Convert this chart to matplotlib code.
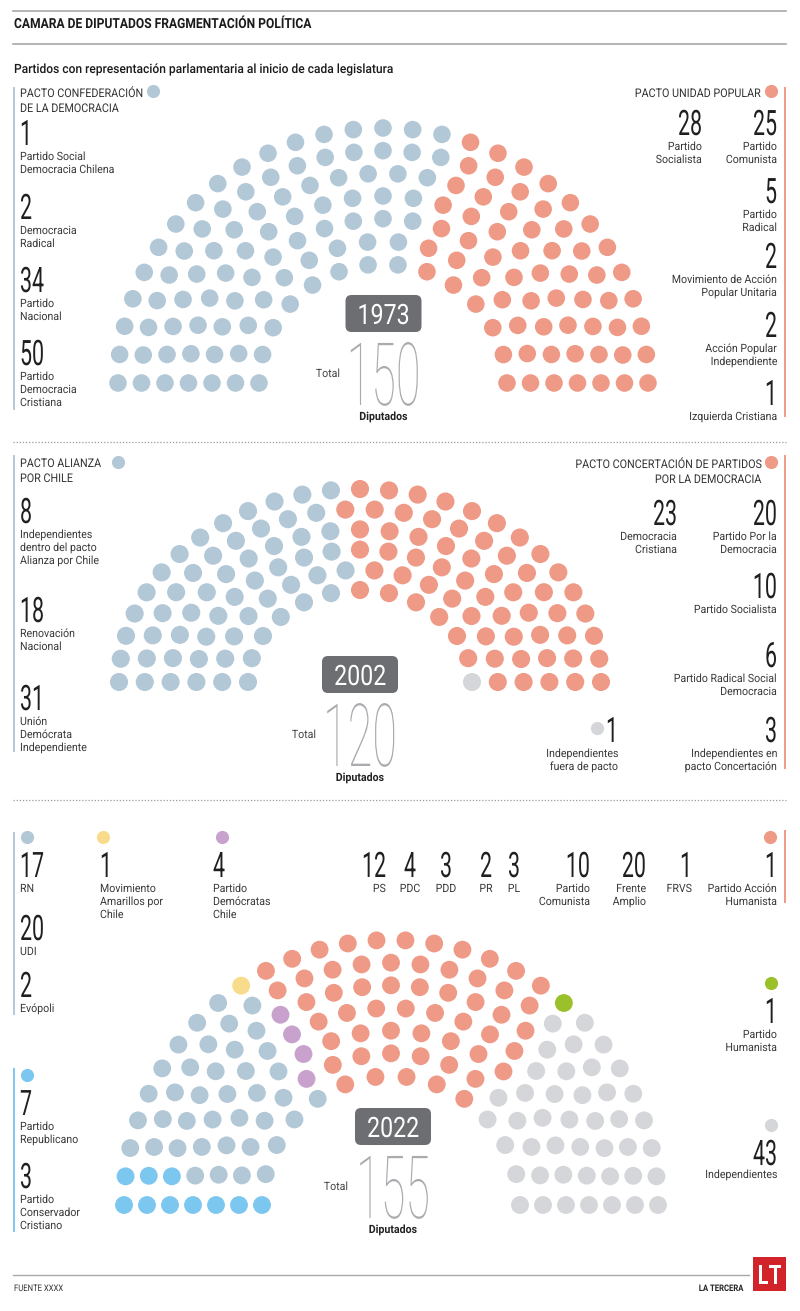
import numpy as np
import matplotlib
matplotlib.use("Agg")
import matplotlib.pyplot as plt
from matplotlib.patheffects import AbstractPathEffect
from matplotlib.transforms import Affine2D, Bbox
from matplotlib.patches import FancyBboxPatch, Rectangle

# ------------------------------------------------------------------ DATA
years = ["1973", "2002", "2022"]
totals = [150, 120, 155]

# 1973
code73_names = ["Partido Social\nDemocracia Chilena", "Democracia\nRadical",
                "Partido\nNacional", "Partido\nDemocracia\nCristiana"]
code73_seats = [1, 2, 34, 50]
up73_names = ["Partido\nSocialista", "Partido\nComunista", "Partido\nRadical",
              "Movimiento de Acción\nPopular Unitaria",
              "Acción Popular\nIndependiente", "Izquierda Cristiana"]
up73_seats = [28, 25, 5, 2, 2, 1]

# 2002
ali02_names = ["Independientes\ndentro del pacto\nAlianza por Chile",
               "Renovación\nNacional", "Unión\nDemócrata\nIndependiente"]
ali02_seats = [8, 18, 31]
con02_names = ["Democracia\nCristiana", "Partido Por la\nDemocracia",
               "Partido Socialista", "Partido Radical Social\nDemocracia",
               "Independientes en\npacto Concertación"]
con02_seats = [23, 20, 10, 6, 3]
ind02_names = ["Independientes\nfuera de pacto"]
ind02_seats = [1]

# 2022
rep22_names = ["Partido\nRepublicano", "Partido\nConservador\nCristiano"]
rep22_seats = [7, 3]
cv22_names = ["RN", "UDI", "Evópoli"]
cv22_seats = [17, 20, 2]
am22_names = ["Movimiento\nAmarillos por\nChile"]
am22_seats = [1]
dem22_names = ["Partido\nDemócratas\nChile"]
dem22_seats = [4]
izq22_names = ["PS", "PDC", "PDD", "PR", "PL", "Partido\nComunista",
               "Frente\nAmplio", "FRVS", "Partido Acción\nHumanista"]
izq22_seats = [12, 4, 3, 2, 3, 10, 20, 1, 1]
ph22_names = ["Partido\nHumanista"]
ph22_seats = [1]
ind22_names = ["Independientes"]
ind22_seats = [43]

# ------------------------------------------------------------------ STYLE
C_BG = "#b3c8d7"      # blue-grey
C_SAL = "#ee9a86"     # salmon
C_GRY = "#d5d6d9"     # grey
C_LB = "#7cc7ef"      # light blue
C_YEL = "#f9dc8b"
C_PUR = "#c9a1cd"
C_GRN = "#9bc12a"
C_TXT = "#3a3a3a"
C_NUM = "#1f1f1f"
C_BOX = "#6d6e71"
C_BIG = "#a9abae"
FONT = ["Roboto", "DejaVu Sans"]

W, H = 800, 1311
fig = plt.figure(figsize=(W / 100, H / 100), dpi=100)
ax = fig.add_axes([0, 0, 1, 1])
ax.set_xlim(0, W)
ax.set_ylim(H, 0)
ax.axis("off")
renderer = fig.canvas.get_renderer()


class Stretch(AbstractPathEffect):
    """Draw text glyphs scaled around the text anchor point (optionally shifted down)."""
    def __init__(self, sx, sy, artist, dy=0.0):
        super().__init__()
        self.sx, self.sy, self.dy = sx, sy, dy
        self.artist = artist

    def draw_path(self, rend, gc, tpath, affine, rgbFace=None):
        x0, y0 = self.artist.get_transform().transform(self.artist.get_position())
        t = (affine + Affine2D().translate(-x0, -y0).scale(self.sx, self.sy)
             .translate(x0, y0 - self.dy))
        rend.draw_path(gc, tpath, t, rgbFace)


def txt(x, y, s, size, color=C_TXT, ha="left", va="baseline", weight="normal",
        sx=1.0, sy=1.0, fit=None, dy=0.0):
    t = ax.text(x, y - dy, s, fontsize=size, color=color, ha=ha, va=va,
                fontweight=weight, family=FONT)
    if fit is not None:
        sx = fit / t.get_window_extent(renderer).width
    t.set_path_effects([Stretch(sx, sy, t, dy)])
    return t


NUM_SIZE, NUM_SY = 15.4, 1.64
LAB_SIZE, LAB_SX = 8.2, 0.93


def number(x, yn, value, ha):
    txt(x, yn, str(value), NUM_SIZE, color=C_NUM, ha=ha, sy=NUM_SY)


def entry(x, yn, value, label, ha):
    number(x, yn, value, ha)
    for i, line in enumerate(label.split("\n")):
        txt(x, yn + 15 + 13 * i, line, LAB_SIZE, ha=ha, sx=LAB_SX)


def heading(x, y, lines, ha, dot_xy, color):
    for i, line in enumerate(lines):
        txt(x, y + 15 * i, line, 8.6, color="#333333", ha=ha, sx=0.9)
    ax.scatter([dot_xy[0]], [dot_xy[1]], s=90, color=color, linewidths=0, zorder=3)


def dot(x, y, color, s=90):
    ax.scatter([x], [y], s=s, color=color, linewidths=0, zorder=3)


def vline(x, y0, y1, color):
    ax.plot([x, x], [y0, y1], color=color, lw=1.4, solid_capstyle="butt")


def hemicycle(seats, colors, rows, cx, cy, rx_in, rx_out, ry_in, ry_out, dsize):
    n = int(sum(seats))
    t = np.linspace(0, 1, rows)
    rxs = rx_in + (rx_out - rx_in) * t
    rys = ry_in + (ry_out - ry_in) * t
    w = rxs + rys
    raw = n * w / w.sum()
    counts = np.floor(raw).astype(int)
    rem = n - counts.sum()
    counts[np.argsort(-(raw - counts))[:rem]] += 1
    angs, rad, xs, ys = [], [], [], []
    for rx, ry, c in zip(rxs, rys, counts):
        a = np.linspace(np.pi, 0, c)
        angs += list(a)
        rad += [rx] * c
        xs += list(cx + rx * np.cos(a))
        ys += list(cy - ry * np.sin(a))
    angs, rad, xs, ys = map(np.array, (angs, rad, xs, ys))
    order = np.lexsort((-rad, -np.round(angs, 6)))
    cols = []
    for s, c in zip(seats, colors):
        cols += [c] * s
    ax.scatter(xs[order], ys[order], s=dsize, c=cols, linewidths=0, zorder=2)


def center_block(cx, box_top, year, total, total_x):
    bw, bh = 76, 37
    ax.add_patch(FancyBboxPatch((cx - bw / 2, box_top), bw, bh,
                                boxstyle="round,pad=0,rounding_size=6",
                                fc=C_BOX, ec="none", zorder=3))
    txt(cx, box_top + 29, year, 16.7, color="white", ha="center", sy=1.21)
    txt(cx, box_top + 110, str(total), 32.4, color=C_BIG, ha="center",
        weight="light", sy=1.94, dy=12)
    txt(total_x, box_top + 82, "Total", 8.2, color="#444444", ha="right", sx=0.93)
    txt(cx, box_top + 125, "Diputados", 8.2, color="#222222", ha="center",
        weight="bold", sx=0.93)


# ------------------------------------------------------------------ HEADER
ax.plot([13, 786], [11, 11], color="#a8a8a8", lw=1.2)
txt(14, 28, "CAMARA DE DIPUTADOS FRAGMENTACIÓN POLÍTICA", 10, color="#1a1a1a",
    weight="bold", fit=297)
ax.plot([13, 786], [44, 44], color="#a8a8a8", lw=1.2)
txt(14, 73, "Partidos con representación parlamentaria al inicio de cada legislatura",
    9.2, color="#1a1a1a", weight="medium", fit=378)

# ------------------------------------------------------------------ 1973
vline(14, 87, 410, C_BG)
vline(785, 87, 417, C_SAL)
heading(20, 97, ["PACTO CONFEDERACIÓN", "DE LA DEMOCRACIA"], "left", (153, 91), C_BG)
heading(760, 97, ["PACTO UNIDAD POPULAR"], "right", (771, 91), C_SAL)
pos_code73 = [(20, 145), (20, 219), (20, 292), (20, 365)]
for (x, y), v, lab in zip(pos_code73, code73_seats, code73_names):
    entry(x, y, v, lab, "left")
pos_up73 = [(702, 135), (777, 135), (777, 203), (777, 268), (777, 337), (777, 405)]
for (x, y), v, lab in zip(pos_up73, up73_seats, up73_names):
    entry(x, y, v, lab, "right")
hemicycle(code73_seats + up73_seats, [C_BG] * 4 + [C_SAL] * 6, 7,
          383, 383, 124, 265, 119, 255, 160)
center_block(383.5, 295, years[0], totals[0], 340)

ax.plot([13, 786], [442, 442], color="#9a9a9a", lw=0.9, ls=(0, (1, 1.5)))

# ------------------------------------------------------------------ 2002
vline(14, 455, 752, C_BG)
vline(785, 455, 769, C_SAL)
heading(20, 467, ["PACTO ALIANZA", "POR CHILE"], "left", (118, 462), C_BG)
heading(761, 468, ["PACTO CONCERTACIÓN DE PARTIDOS", "POR LA DEMOCRACIA"], "right",
        (771, 462), C_SAL)
pos_ali02 = [(20, 523), (20, 622), (20, 710)]
for (x, y), v, lab in zip(pos_ali02, ali02_seats, ali02_names):
    entry(x, y, v, lab, "left")
pos_con02 = [(677, 525), (777, 525), (777, 598), (777, 667), (777, 742)]
for (x, y), v, lab in zip(pos_con02, con02_seats, con02_names):
    entry(x, y, v, lab, "right")
entry(618, 742, ind02_seats[0], ind02_names[0], "right")
dot(597, 728, C_GRY)
hemicycle(ali02_seats + con02_seats + ind02_seats,
          [C_BG] * 3 + [C_SAL] * 5 + [C_GRY], 6,
          360, 682, 112, 241, 92, 193, 170)
center_block(360, 656, years[1], totals[1], 316)

ax.plot([13, 786], [800, 800], color="#9a9a9a", lw=0.9, ls=(0, (1, 1.5)))

# ------------------------------------------------------------------ 2022
vline(14, 832, 1015, C_BG)
vline(14, 1068, 1232, C_LB)
vline(785, 830, 903, C_SAL)
dot(27, 837, C_BG)
dot(103, 837, C_YEL)
dot(222, 837, C_PUR)
dot(770, 837, C_SAL)
dot(771, 983, C_GRN)
dot(771, 1125, C_GRY)
dot(27, 1075, C_LB)

pos_cv22 = [(20, 877), (20, 940), (20, 997)]
for (x, y), v, lab in zip(pos_cv22, cv22_seats, cv22_names):
    entry(x, y, v, lab, "left")
pos_rep22 = [(20, 1115), (20, 1188)]
for (x, y), v, lab in zip(pos_rep22, rep22_seats, rep22_names):
    entry(x, y, v, lab, "left")
entry(100, 877, am22_seats[0], am22_names[0], "left")
entry(213, 877, dem22_seats[0], dem22_names[0], "left")
pos_izq22 = [(386, "right"), (410, "center"), (446, "center"), (486, "center"),
             (514, "center"), (590, "right"), (646, "right"), (692, "right"),
             (777, "right")]
for (x, ha), v, lab in zip(pos_izq22, izq22_seats, izq22_names):
    entry(x, 877, v, lab, ha)
entry(777, 1023, ph22_seats[0], ph22_names[0], "right")
number(777, 1165, ind22_seats[0], "right")
txt(777, 1178, ind22_names[0], LAB_SIZE, ha="right", sx=LAB_SX)

hemicycle(rep22_seats + cv22_seats + am22_seats + dem22_seats + izq22_seats
          + ph22_seats + ind22_seats,
          [C_LB] * 2 + [C_BG] * 3 + [C_YEL] + [C_PUR] + [C_SAL] * 9 + [C_GRN] + [C_GRY],
          7, 391, 1205, 129, 267, 129, 265, 165)
center_block(393, 1108, years[2], totals[2], 348)

# ------------------------------------------------------------------ FOOTER
ax.plot([13, 749], [1275, 1275], color="#a8a8a8", lw=1.0)
txt(14, 1291, "FUENTE XXXX", 6.5, color="#333333", sx=0.85)
txt(743, 1291, "LA TERCERA", 6.5, color="#222222", ha="right", weight="bold", sx=0.85)
ax.add_patch(Rectangle((753, 1257), 33, 34, fc="#d2232a", ec="none"))
txt(769.5, 1284, "LT", 15, color="white", ha="center", weight="bold", sy=1.3)

fig.savefig("out.png", dpi=100)
